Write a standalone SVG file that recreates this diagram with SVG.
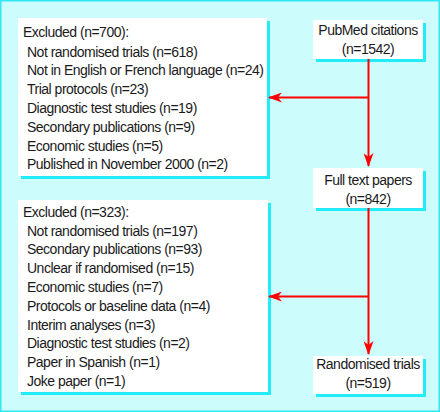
<svg xmlns="http://www.w3.org/2000/svg" width="440" height="412" viewBox="0 0 440 412">
<style>
text{font-family:"Liberation Sans",Arial,sans-serif;font-size:14px;letter-spacing:-0.5px;fill:#1a1a1a}
.c{text-anchor:middle}
.box{fill:#ffffff}
.sh{fill:#22ecf8}
.conn{stroke:#ff0000;stroke-width:2;fill:none}
</style>
<defs>
<marker id="ah" viewBox="0 0 14 10" refX="13" refY="5" markerWidth="14" markerHeight="10" markerUnits="userSpaceOnUse" orient="auto">
<path d="M0,0 L14,5 L0,10 L4,5 Z" fill="#ff0000"/>
</marker>
</defs>
<rect x="0" y="0" width="440" height="412" fill="#ccfcfc"/>
<rect x="0.75" y="0.75" width="438.5" height="410.5" fill="none" stroke="#33e6f5" stroke-width="1.5"/>

<g id="excluded1">
<rect class="sh" x="21" y="21" width="249" height="158"/>
<rect class="box" x="18" y="18" width="249" height="158"/>
<text x="23" y="37.3">Excluded (n=700):</text>
<text x="27" y="56.5">Not randomised trials (n=618)</text>
<text x="27" y="75.3">Not in English or French language (n=24)</text>
<text x="27" y="94.1">Trial protocols (n=23)</text>
<text x="27" y="112.9">Diagnostic test studies (n=19)</text>
<text x="27" y="131.7">Secondary publications (n=9)</text>
<text x="27" y="150.5">Economic studies (n=5)</text>
<text x="27" y="169.3">Published in November 2000 (n=2)</text>
</g>

<g id="pubmed">
<rect class="sh" x="316" y="23" width="110" height="39"/>
<rect class="box" x="313" y="20" width="110" height="39"/>
<text class="c" x="368" y="35">PubMed citations</text>
<text class="c" x="368" y="54">(n=1542)</text>
</g>

<g id="fulltext">
<rect class="sh" x="316" y="171" width="110" height="40"/>
<rect class="box" x="313" y="168" width="110" height="40"/>
<text class="c" x="368" y="185">Full text papers</text>
<text class="c" x="368" y="203.5">(n=842)</text>
</g>

<g id="excluded2">
<rect class="sh" x="21" y="203" width="250" height="192"/>
<rect class="box" x="18" y="200" width="250" height="192"/>
<text x="23" y="216.7">Excluded (n=323):</text>
<text x="27" y="235.6">Not randomised trials (n=197)</text>
<text x="27" y="254.4">Secondary publications (n=93)</text>
<text x="27" y="273.2">Unclear if randomised (n=15)</text>
<text x="27" y="292">Economic studies (n=7)</text>
<text x="27" y="310.8">Protocols or baseline data (n=4)</text>
<text x="27" y="329.6">Interim analyses (n=3)</text>
<text x="27" y="348.4">Diagnostic test studies (n=2)</text>
<text x="27" y="367.2">Paper in Spanish (n=1)</text>
<text x="27" y="386">Joke paper (n=1)</text>
</g>

<g id="randomised">
<rect class="sh" x="316" y="359" width="110" height="38"/>
<rect class="box" x="313" y="356" width="110" height="38"/>
<text class="c" x="368" y="369">Randomised trials</text>
<text class="c" x="368" y="388">(n=519)</text>
</g>

<g id="connectors">
<path class="conn" d="M368.5,59 V166" marker-end="url(#ah)"/>
<path class="conn" d="M368.5,97.5 H269" marker-end="url(#ah)"/>
<path class="conn" d="M368.5,208 V354" marker-end="url(#ah)"/>
<path class="conn" d="M368.5,296.5 H269" marker-end="url(#ah)"/>
</g>
</svg>
